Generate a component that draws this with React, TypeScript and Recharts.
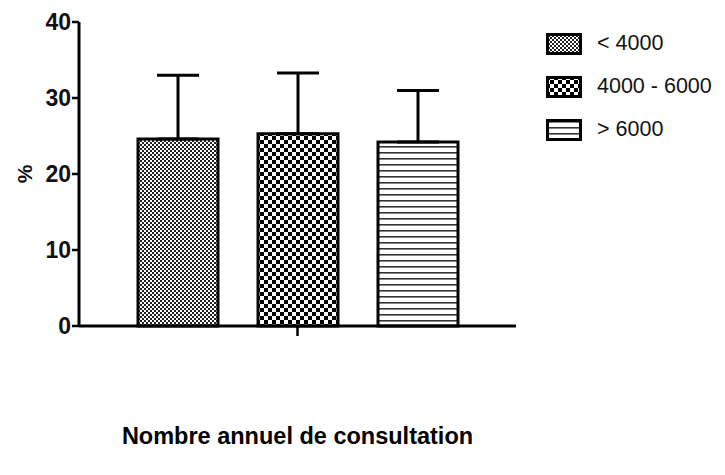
import React from 'react';
import { BarChart, Bar, XAxis, YAxis, ErrorBar, Legend } from 'recharts';

const categories = ['Nombre annuel de consultation'];
const seriesNames = ['< 4000', '4000 - 6000', '> 6000'];
const means = [24.6, 25.3, 24.2];
const upperErrors = [8.4, 8.0, 6.8];
const yTicks = [0, 10, 20, 30, 40];

const keys = ['s0', 's1', 's2'];
const patternIds = ['pFine', 'pCheck', 'pLines'];

const data = categories.map((c) => {
  const row: Record<string, any> = { name: c };
  keys.forEach((k, i) => {
    row[k] = means[i];
    row[k + 'err'] = [0, upperErrors[i]];
  });
  return row;
});

const font = '"Liberation Sans", Arial, Helvetica, sans-serif';

const Swatch = ({ id }: { id: string }) => (
  <svg width={36} height={22} style={{ display: 'block' }}>
    <rect x={1.5} y={1.5} width={33} height={19} fill={`url(#${id})`} stroke="#000" strokeWidth={3} />
  </svg>
);

const LegendContent = () => (
  <div style={{ fontFamily: font }}>
    {seriesNames.map((n, i) => (
      <div key={n} style={{ display: 'flex', alignItems: 'center', height: 43 }}>
        <Swatch id={patternIds[i]} />
        <span style={{ marginLeft: 15, fontSize: 21.5, color: '#111' }}>{n}</span>
      </div>
    ))}
  </div>
);

// rotated "%" label placed inside the y-axis area
const PercentLabel = (props: any) => {
  const vb = props.viewBox || {};
  const x = (vb.x || 0) + 24;
  const y = (vb.y || 0) + (vb.height || 0) / 2;
  return (
    <text
      x={x}
      y={y}
      transform={`rotate(-90, ${x}, ${y})`}
      textAnchor="middle"
      dominantBaseline="central"
      style={{ fontFamily: font, fontSize: 21, fontWeight: 'bold', fill: '#111' }}
    >
      %
    </text>
  );
};

const App: React.FC = () => {
  return (
    <div style={{ position: 'absolute', left: 0, top: 0, background: '#fff' }}>
      <BarChart
        width={725}
        height={475}
        data={data}
        margin={{ top: 22, right: 209, left: 0, bottom: 0 }}
        barSize={80}
        barGap={40}
      >
        <defs>
          <pattern id="pFine" width={4} height={4} patternUnits="userSpaceOnUse">
            <rect width={4} height={4} fill="#fff" />
            <rect width={2} height={2} fill="#222" />
            <rect x={2} y={2} width={2} height={2} fill="#222" />
          </pattern>
          <pattern id="pCheck" width={8} height={8} patternUnits="userSpaceOnUse">
            <rect width={8} height={8} fill="#fff" />
            <rect width={4} height={4} fill="#000" />
            <rect x={4} y={4} width={4} height={4} fill="#000" />
          </pattern>
          <pattern id="pLines" width={6} height={6} patternUnits="userSpaceOnUse">
            <rect width={6} height={6} fill="#fff" />
            <rect y={2} width={6} height={1.6} fill="#333" />
          </pattern>
        </defs>
        <XAxis
          dataKey="name"
          height={149}
          axisLine={{ stroke: '#000', strokeWidth: 3 }}
          tickLine={{ stroke: '#000', strokeWidth: 2.5 }}
          tickSize={10}
          tickFormatter={() => ''}
          label={{
            value: categories[0],
            position: 'insideBottom',
            offset: 31,
            style: { fontFamily: font, fontSize: 23.5, fontWeight: 'bold', fill: '#000' },
          }}
        />
        <YAxis
          width={79}
          domain={[0, 40]}
          ticks={yTicks}
          interval={0}
          axisLine={{ stroke: '#000', strokeWidth: 3 }}
          tickLine={{ stroke: '#000', strokeWidth: 2.5 }}
          tickSize={7}
          tickMargin={1}
          tick={{ fontFamily: font, fontSize: 23, fontWeight: 'bold', fill: '#111' }}
          label={<PercentLabel />}
        />
        <Legend
          layout="vertical"
          align="center"
          verticalAlign="middle"
          wrapperStyle={{ left: 546, top: 22, width: 175 }}
          content={() => <LegendContent />}
        />
        {keys.map((k, i) => (
          <Bar
            key={k}
            dataKey={k}
            name={seriesNames[i]}
            fill={`url(#${patternIds[i]})`}
            stroke="#000"
            strokeWidth={3}
            isAnimationActive={false}
          >
            <ErrorBar dataKey={k + 'err'} width={21} stroke="#000" strokeWidth={3} direction="y" />
          </Bar>
        ))}
      </BarChart>
    </div>
  );
};

export default App;
